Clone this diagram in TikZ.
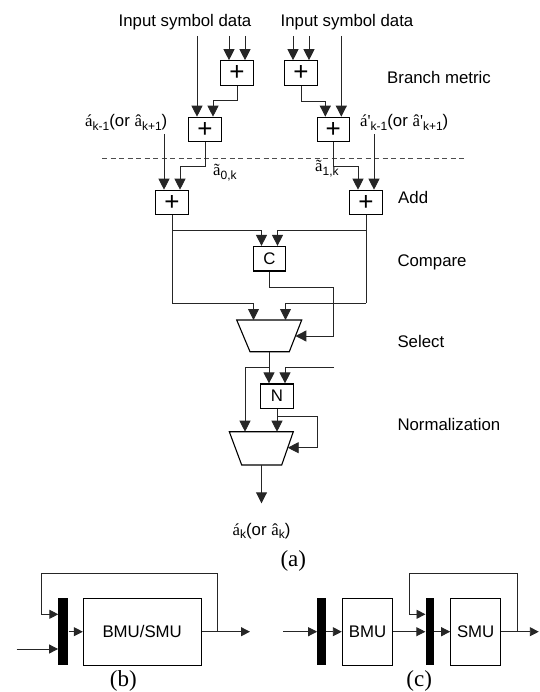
\documentclass[tikz,border=0pt]{standalone}
\usepackage{fontspec}
\setmainfont{Liberation Sans}
\newfontfamily\serifa{Liberation Serif}
\usetikzlibrary{arrows.meta}
\newcommand\sbs[1]{\raisebox{-0.35ex}{\fontsize{12}{12}\selectfont #1}}
\newcommand\plussign{{\fontsize{26}{26}\selectfont +}}
\begin{document}
\begin{tikzpicture}[x=1pt,y=-1pt,
  blk/.style={draw, line width=1.1pt, inner sep=0pt, minimum width=32.5pt, minimum height=24.5pt},
  wire/.style={line width=0.9pt, draw=black!85},
  arr/.style={wire, -{Triangle[length=11pt,width=11pt]}},
  arrs/.style={wire, -{Triangle[length=9pt,width=9pt]}},
  lab/.style={font=\fontsize{16.8}{20}\selectfont, inner sep=0pt},
  figcap/.style={font=\serifa\fontsize{23}{26}\selectfont, inner sep=0pt},
  mux/.style={draw, line width=1.1pt, line join=miter},
  bar/.style={fill=black, draw=none, inner sep=0pt, minimum height=66.7pt},
  ubox/.style={draw, line width=1pt, inner sep=0pt, minimum height=66.7pt, font=\fontsize{16.8}{20}\selectfont}]
\useasboundingbox (0,0) rectangle (539,692);

% ---------- labels
\node[lab, anchor=base] (in1) at (185,26.7) {Input symbol data};
\node[lab, anchor=base] (in2) at (347,26.7) {Input symbol data};
\node[lab, anchor=base west] (tbm) at (387,83.3) {Branch metric};
\node[lab, anchor=base west] (tadd) at (398,203.3) {Add};
\node[lab, anchor=base west] (tcmp) at (397.3,266.7) {Compare};
\node[lab, anchor=base west] (tsel) at (397.3,347.3) {Select};
\node[lab, anchor=base west] (tnrm) at (397.3,430) {Normalization};
\node[lab, anchor=base east] (lprev) at (167.5,127) {{\serifa á}\sbs{k-1}(or {\serifa â}\sbs{k+1})};
\node[lab, anchor=base west] (rprev) at (360,127) {{\serifa á\textquotesingle}\sbs{k-1}(or {\serifa â\textquotesingle}\sbs{k+1})};
\node[lab, anchor=base west] (a0k) at (213,176) {{\serifa ã}\sbs{0,k}};
\node[lab, anchor=base west] (a1k) at (315,172) {{\serifa ã}\sbs{1,k}};
\node[lab, anchor=base] (aout) at (261.5,535) {{\serifa á}\sbs{k}(or {\serifa â}\sbs{k})};
\node[figcap, anchor=base] (capa) at (293.3,566.7) {(a)};
\node[figcap, anchor=base] (capb) at (123.3,686.7) {(b)};
\node[figcap, anchor=base] (capc) at (419.2,686.7) {(c)};

% ---------- boxes
\node[blk] (bm1) at (237,73) {\plussign};
\node[blk] (bm2) at (301,73) {\plussign};
\node[blk] (bm3) at (205,129.5) {\plussign};
\node[blk] (bm4) at (333.3,129.5) {\plussign};
\node[blk] (add1) at (172,202.5) {\plussign};
\node[blk] (add2) at (366,202.5) {\plussign};
\node[blk, font=\fontsize{16.8}{20}\selectfont] (cmp) at (269.5,258.7) {C};
\node[blk, font=\fontsize{16.8}{20}\selectfont] (nrm) at (277,396.2) {N};

% ---------- muxes
\draw[mux] (236.7,320) -- (301.7,320) -- (289.3,351.7) -- (250,351.7) -- cycle;
\coordinate (selA) at (253.5,320);
\coordinate (selB) at (285.5,320);
\coordinate (selS) at (295.4,336);
\coordinate (selO) at (269,351.7);
\draw[mux] (229.3,431.7) -- (293.3,431.7) -- (281.7,465) -- (241.7,465) -- cycle;
\coordinate (outA) at (245,431.7);
\coordinate (outB) at (277,431.7);
\coordinate (outS) at (287.7,447.7);
\coordinate (outO) at (261.5,465);
\coordinate (outE) at (261.5,503.3);

% ---------- dashed separator
\draw[line width=0.8pt, draw=black!70, dash pattern=on 5pt off 3.5pt] (102,158.3) -- (467,158.3);

% ---------- free input ends
\coordinate (t1) at (229,36);
\coordinate (t2) at (245,36);
\coordinate (t3) at (197,36);
\coordinate (t4) at (293,36);
\coordinate (t5) at (309,36);
\coordinate (t6) at (341.3,36);
\coordinate (l1) at (164,134);
\coordinate (r1) at (374,134);
\coordinate (nin) at (334,367.7);

% ---------- branch metric
\draw[arr] (t1) -- (t1 |- bm1.north);
\draw[arr] (t2) -- (t2 |- bm1.north);
\draw[arr] (t4) -- (t4 |- bm2.north);
\draw[arr] (t5) -- (t5 |- bm2.north);
\draw[arr] (t3) -- (t3 |- bm3.north);
\draw[arr] (t6) -- (t6 |- bm4.north);
\draw[arr] (bm1.south) -- (237,100) -| ([xshift=8pt]bm3.north);
\draw[arr] (bm2.south) -- (301,101) -| ([xshift=-8pt]bm4.north);

% ---------- add
\draw[arr] (bm3.south) -- (205,166) -| ([xshift=8pt]add1.north);
\draw[arr] (bm4.south) -- (333.3,166.5) -| ([xshift=-8pt]add2.north);
\draw[arr] (l1) -- (l1 |- add1.north);
\draw[arr] (r1) -- (r1 |- add2.north);

% ---------- compare / select
\draw[wire] (add1.south) -- (172,303.3);
\draw[arr] (172,303.3) -| (selA);
\draw[arr] (172,230.7) -| ([xshift=-8pt]cmp.north);
\draw[wire] (add2.south) -- (366,303.3);
\draw[arr] (366,303.3) -| (selB);
\draw[arr] (366,230.7) -| ([xshift=8pt]cmp.north);
\draw[arr] (cmp.south) -- (269.5,287.3) -- (333.3,287.3) -- (333.3,336) -- (selS);

% ---------- normalization
\draw[arr] (selO) -- (selO |- nrm.north);
\draw[arr] (269,367.7) -| (outA);
\draw[arr] (nin) -| ([xshift=8pt]nrm.north);
\draw[arr] (nrm.south) -- (outB);
\draw[arr] (277,416.7) -- (317.3,416.7) -- (317.3,447.7) -- (outS);
\draw[arr] (outO) -- (outE);

% ---------- (b)
\node[bar, minimum width=10pt] (barb) at (63.3,631.7) {};
\node[ubox, minimum width=117.7pt] (bsmu) at (142.2,631.7) {BMU/SMU};
\coordinate (bin) at (16.7,649);
\coordinate (bout) at (250,631.7);
\draw[arrs] (bin) -- (bin -| barb.west);
\draw[arrs] (barb.east) -- (bsmu.west);
\draw[arrs] (bsmu.east) -- (bout);
\draw[arrs] (217.3,631.7) -- (217.3,573.3) -- (41.7,573.3) -- (41.7,614.3) -- (58.3,614.3);

% ---------- (c)
\node[bar, minimum width=8.7pt] (barc1) at (321.7,631.7) {};
\node[ubox, minimum width=50.4pt] (bmu) at (367.5,631.7) {BMU};
\node[bar, minimum width=8.5pt] (barc2) at (429.8,631.7) {};
\node[ubox, minimum width=50pt] (smu) at (475.7,631.7) {SMU};
\coordinate (cin) at (283.3,631.7);
\coordinate (cout) at (538.8,631.7);
\draw[arrs] (cin) -- (barc1.west);
\draw[arrs] (barc1.east) -- (bmu.west);
\draw[arrs] (bmu.east) -- (barc2.west);
\draw[arrs] (barc2.east) -- (smu.west);
\draw[arrs] (smu.east) -- (cout);
\draw[arrs] (517.7,631.7) -- (517.7,573.3) -- (409,573.3) -- (409,614.3) -- (425.5,614.3);
\end{tikzpicture}
\end{document}
